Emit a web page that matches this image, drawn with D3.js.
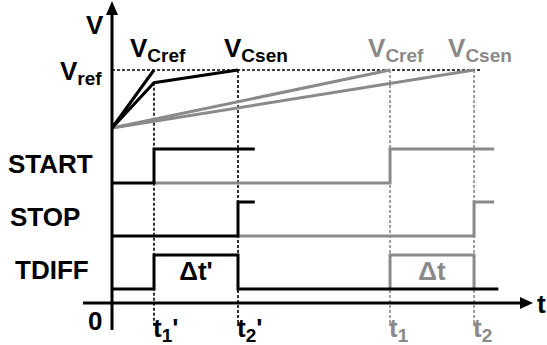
<!DOCTYPE html>
<html>
<head>
<meta charset="utf-8">
<script src="https://cdn.jsdelivr.net/npm/d3@7"></script>
<style>
  body { margin: 0; background: #fff; }
  svg text { font-family: "Liberation Sans", Arial, sans-serif; font-weight: bold; }
</style>
</head>
<body>
<svg width="547" height="345"></svg>
<script>
// times (arbitrary units)
const tP1 = 1.0, tP2 = 3.0, t1 = 6.62, t2 = 8.62;
const blackEnd = 3.4, grayEnd = 9.1, tdiffEnd = 9.2;

// ramps: [t, v] with v = 1 at Vref
const rampBlackCref = [[0, 0], [tP1, 1]];
const rampBlackCsen = [[0, 0], [tP1, 0.78], [tP2, 1]];
const rampGrayCref = [[0, 0], [t1, 1]];
const rampGrayCsen = [[0, 0], [t2, 1]];

// digital rows
const rows = ["START", "STOP", "TDIFF"];
const startBlack = [[0, 0], [tP1, 0], [tP1, 1], [blackEnd, 1]];
const startGray = [[tP1, 0], [t1, 0], [t1, 1], [grayEnd, 1]];
const stopBlack = [[0, 0], [tP2, 0], [tP2, 1], [blackEnd, 1]];
const stopGray = [[tP2, 0], [t2, 0], [t2, 1], [grayEnd, 1]];
const tdiffBlack = [[0, 0], [tP1, 0], [tP1, 1], [tP2, 1], [tP2, 0], [tdiffEnd, 0]];
const tdiffGray = [[t1, 0], [t1, 1], [t2, 1], [t2, 0]];

const black = "#000", gray = "#8a8a8a";

let svg = d3.select("svg");
const g = svg.append("g");

const x = d3.scaleLinear().domain([0, 10]).range([112, 532]);
const v = d3.scaleLinear().domain([0, 1]).range([128, 70]);
const row = d3.scalePoint().domain(rows).range([183, 289]);
const level = d3.scaleLinear().domain([0, 1]).range([0, -34]);

const rampLine = d3.line().x(d => x(d[0])).y(d => v(d[1]));
const sigLine = name => d3.line().x(d => x(d[0])).y(d => row(name) + level(d[1]));

// dotted guides
function dotted(x1, y1, x2, y2, col, w) {
  g.append("line").attr("x1", x1).attr("y1", y1).attr("x2", x2).attr("y2", y2)
    .attr("stroke", col).attr("stroke-width", w).attr("stroke-dasharray", "3,2");
}
dotted(x(0), v(1), x(t2) + 6, v(1), black, 1.6);
dotted(x(tP1), v(0.78), x(tP1), 326, black, 1.6);
dotted(x(tP2), v(1), x(tP2), 326, black, 1.6);
dotted(x(t1), v(1), x(t1), 326, gray, 1.6);
dotted(x(t2), v(1), x(t2), 326, gray, 1.6);

// ramps
[[rampGrayCref, gray], [rampGrayCsen, gray], [rampBlackCref, black], [rampBlackCsen, black]]
  .forEach(([d, c]) => {
    g.append("path").attr("d", rampLine(d)).attr("fill", "none")
      .attr("stroke", c).attr("stroke-width", 3).attr("stroke-linejoin", "miter");
  });

// signals, gray first so black stays on top
[["START", startGray, gray], ["STOP", stopGray, gray], ["TDIFF", tdiffGray, gray],
 ["START", startBlack, black], ["STOP", stopBlack, black], ["TDIFF", tdiffBlack, black]]
  .forEach(([name, d, c]) => {
    g.append("path").attr("d", sigLine(name)(d)).attr("fill", "none")
      .attr("stroke", c).attr("stroke-width", 3);
  });

// axes
g.append("line").attr("x1", x(0)).attr("y1", 330).attr("x2", x(0)).attr("y2", 10)
  .attr("stroke", black).attr("stroke-width", 3);
g.append("path").attr("d", `M${x(0)},1 L${x(0) - 6},15 L${x(0) + 6},15 Z`).attr("fill", black);
g.append("line").attr("x1", 83).attr("y1", 303).attr("x2", x(10) - 8).attr("y2", 303)
  .attr("stroke", black).attr("stroke-width", 3);
g.append("path").attr("d", `M${x(10) + 1},303 L${x(10) - 12},297 L${x(10) - 12},309 Z`).attr("fill", black);

// text helpers
function label(xp, yp, main, sub, col, prime) {
  const t = g.append("text").attr("x", xp).attr("y", yp).attr("fill", col).attr("font-size", 26);
  t.append("tspan").text(main);
  if (sub) t.append("tspan").attr("font-size", 19).attr("dy", 5).text(sub);
  if (prime) t.append("tspan").attr("font-size", 26).attr("dy", sub ? -5 : 0).text(prime);
  return t;
}

label(86, 34, "V", null, black);
label(60, 80, "V", "ref", black);
label(x(tP1) - 24, 57, "V", "Cref", black);
label(x(tP2) - 14, 57, "V", "Csen", black);
label(x(t1) - 22, 57, "V", "Cref", gray);
label(x(t2) - 26, 57, "V", "Csen", gray);

const rowLabelX = { START: 8, STOP: 10, TDIFF: 15 };
rows.forEach(r => label(rowLabelX[r], row(r) - 10, r, null, black));

label(88, 330, "0", null, black);
label(537, 313, "t", null, black);
label(x(tP1) - 1, 337, "t", "1", black, "'");
label(x(tP2) - 1, 337, "t", "2", black, "'");
label(x(t1) - 1, 337, "t", "1", gray);
label(x(t2) - 1, 337, "t", "2", gray);

label((x(tP1) + x(tP2)) / 2, 280, "Δt'", null, black).attr("text-anchor", "middle");
label((x(t1) + x(t2)) / 2, 280, "Δt", null, gray).attr("text-anchor", "middle");
</script>
</body>
</html>
